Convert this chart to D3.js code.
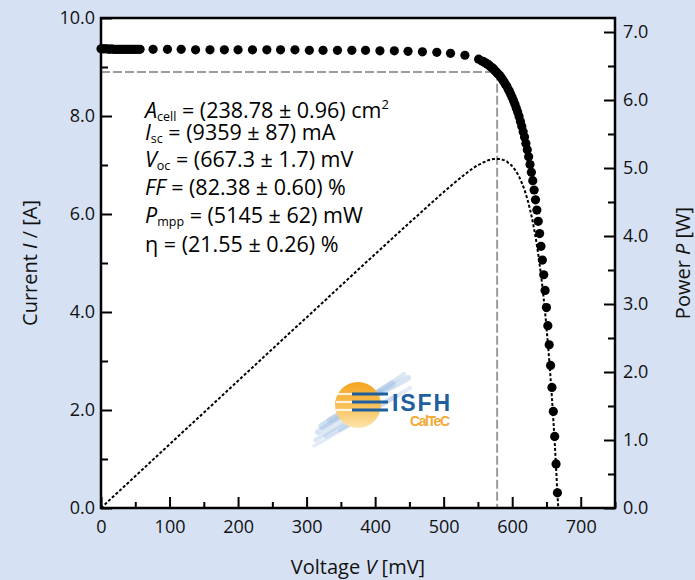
<!DOCTYPE html>
<html><head><meta charset="utf-8">
<script src="https://cdn.jsdelivr.net/npm/d3@7/dist/d3.min.js"></script>
<style>
html,body{margin:0;padding:0;background:#d6e1f3;}
svg{display:block;font-family:"Open Sans",sans-serif;}
</style></head>
<body>
<svg id="chart" width="695" height="580"></svg>
<script>
// ---- data ----
const voltage = [0,3,6,9,12,15,18,21,24,27,30,33,36,39,42,45,48,51,54,57,
  76,97,117,138,159,180,200,221,242,262,283,304,324,345,366,386,407,428,448,469,490,510,531,551,
  556,558,560,562,564,566,568,570,572,574,576,578,580,582,584,586,588,590,592,594,596,598,600,
  602,604,606,608,610,612,614,616,618,620,622,624,626,628,630,632,634,636,638,640,642,644,646,
  648,650,652,654,656,658,660,662,664,666];
const current = [9.37,9.37,9.37,9.37,9.36,9.37,9.36,9.36,9.36,9.36,9.36,9.36,9.36,9.36,9.36,9.36,9.36,9.36,9.36,9.36,
  9.36,9.36,9.36,9.35,9.35,9.35,9.35,9.35,9.35,9.35,9.35,9.34,9.34,9.34,9.34,9.34,9.33,9.33,9.32,9.31,9.30,9.28,9.24,9.16,
  9.12,9.11,9.09,9.07,9.06,9.04,9.01,8.99,8.97,8.94,8.91,8.88,8.85,8.82,8.78,8.74,8.70,8.65,8.61,8.55,8.50,8.44,8.38,
  8.31,8.24,8.16,8.08,7.99,7.89,7.79,7.68,7.57,7.44,7.31,7.17,7.01,6.85,6.68,6.49,6.29,6.08,5.85,5.60,5.34,5.06,4.76,
  4.44,4.09,3.72,3.33,2.91,2.46,1.97,1.46,0.90,0.31];
const xTicks = [0,100,200,300,400,500,600,700];
const yTicks = [0,2,4,6,8,10];
const pTicks = [0,1,2,3,4,5,6,7];
const mpp = {v: 578, i: 8.90};
const infoLines = [
  [{t:"A",i:true},{t:"cell",sub:true},{t:" = (238.78 ± 0.96) cm"},{t:"2",sup:true}],
  [{t:"I",i:true},{t:"sc",sub:true},{t:" = (9359 ± 87) mA"}],
  [{t:"V",i:true},{t:"oc",sub:true},{t:" = (667.3 ± 1.7) mV"}],
  [{t:"FF",i:true},{t:" = (82.38 ± 0.60) %"}],
  [{t:"P",i:true},{t:"mpp",sub:true},{t:" = (5145 ± 62) mW"}],
  [{t:"η = (21.55 ± 0.26) %"}]
];
const infoBaselines = [118,140,167,195,223,252];

// ---- layout ----
const svg = d3.select("#chart");
const L=101, R=615, T=18, B=508;
const x = d3.scaleLinear().domain([0,750]).range([L,R]);
const y = d3.scaleLinear().domain([0,10]).range([B,T]);
const yP = d3.scaleLinear().domain([0,(B-T)/68]).range([B,T]);

svg.append("rect").attr("width",695).attr("height",580).attr("fill","#d6e1f3");
svg.append("rect").attr("x",L).attr("y",T).attr("width",R-L).attr("height",B-T).attr("fill","#fff");

// ---- logo ----
const logo = svg.append("g");
const defs = svg.append("defs");
const g1 = defs.append("linearGradient").attr("id","sun").attr("x1",0).attr("y1",0).attr("x2",0).attr("y2",1);
g1.append("stop").attr("offset","0%").attr("stop-color","#f5a31f");
g1.append("stop").attr("offset","50%").attr("stop-color","#f8bf55");
g1.append("stop").attr("offset","100%").attr("stop-color","#fde4ac");
const streaks = [[316,440,372,404,5,0.35],[318,432,380,392,6,0.4],[322,426,392,384,7,0.45],[330,420,408,378,6,0.4],
  [326,436,396,396,5,0.35],[340,430,410,388,4,0.3],[314,446,360,420,3,0.3],[346,414,404,374,4,0.35]];
streaks.forEach(s=>logo.append("line").attr("x1",s[0]).attr("y1",s[1]).attr("x2",s[2]).attr("y2",s[3])
  .attr("stroke","#9dbde2").attr("stroke-width",s[4]).attr("stroke-linecap","round").attr("opacity",s[5]));
logo.append("circle").attr("cx",358).attr("cy",405).attr("r",23).attr("fill","url(#sun)");
[394,402,410].forEach(yy=>{
  logo.append("line").attr("x1",336).attr("x2",352).attr("y1",yy).attr("y2",yy).attr("stroke","#fff").attr("stroke-width",2.2).attr("opacity",0.8);
  logo.append("line").attr("x1",352).attr("x2",388).attr("y1",yy).attr("y2",yy).attr("stroke","#1f5f9e").attr("stroke-width",2.8);
});
logo.append("text").attr("x",392).attr("y",411).attr("font-family","Liberation Sans, Arial, sans-serif").attr("font-weight","bold")
  .attr("font-size",23).attr("fill","#1f5f9e").attr("textLength",58).text("ISFH");
logo.append("text").attr("x",410).attr("y",426).attr("font-family","Liberation Sans, Arial, sans-serif").attr("font-weight","bold")
  .attr("font-size",14).attr("fill","#f2a935").attr("textLength",40).text("CalTeC");

// ---- mpp guide lines ----
svg.append("path").attr("d",`M${L},${y(mpp.i)}H${x(mpp.v)}V${B}`).attr("fill","none")
  .attr("stroke","#9c9c9c").attr("stroke-width",2).attr("stroke-dasharray","9,3");

// ---- power curve ----
const pw = voltage.map((v,k)=>({v, p: v*current[k]/1000}));
pw.push({v:667.3,p:0});
svg.append("path").datum(pw).attr("fill","none").attr("stroke","#000").attr("stroke-width",2)
  .attr("stroke-dasharray","3,2")
  .attr("d",d3.line().x(d=>x(d.v)).y(d=>yP(d.p)).curve(d3.curveMonotoneX));

// ---- IV points ----
svg.append("g").selectAll("circle").data(voltage).join("circle")
  .attr("cx",v=>x(v)).attr("cy",(v,k)=>y(current[k])).attr("r",4.6).attr("fill","#000");

// ---- axes ----
function styleAxis(g){ g.select(".domain").remove(); g.selectAll("line").attr("stroke","#000").attr("stroke-width",2);
  g.selectAll("text").attr("font-size",18).attr("fill","#111").attr("font-family","Open Sans, sans-serif"); }
const xMinor = d3.range(50,751,100);
svg.append("g").attr("transform",`translate(0,${B})`)
  .call(d3.axisBottom(x).tickValues(xTicks).tickFormat(d3.format("d")).tickSize(-11).tickPadding(12)).call(styleAxis);
svg.append("g").attr("transform",`translate(0,${B})`)
  .call(d3.axisBottom(x).tickValues(xMinor).tickFormat("").tickSize(-6)).call(styleAxis);
svg.append("g").attr("transform",`translate(${L},0)`)
  .call(d3.axisLeft(y).tickValues(yTicks).tickFormat(d3.format(".1f")).tickSize(-11).tickPadding(6)).call(styleAxis);
svg.append("g").attr("transform",`translate(${L},0)`)
  .call(d3.axisLeft(y).tickValues(d3.range(1,10,2)).tickFormat("").tickSize(-7)).call(styleAxis);
svg.append("g").attr("transform",`translate(${R},0)`)
  .call(d3.axisRight(yP).tickValues(pTicks).tickFormat(d3.format(".1f")).tickSize(-11).tickPadding(8)).call(styleAxis);
svg.append("g").attr("transform",`translate(${R},0)`)
  .call(d3.axisRight(yP).tickValues(d3.range(0.5,7.2,1)).tickFormat("").tickSize(-7)).call(styleAxis);
svg.append("rect").attr("x",L).attr("y",T).attr("width",R-L).attr("height",B-T).attr("fill","none")
  .attr("stroke","#000").attr("stroke-width",2.5);

// ---- axis titles ----
function title(sel, parts){ parts.forEach(p=>sel.append("tspan").attr("font-style",p[1]?"italic":null).text(p[0])); }
title(svg.append("text").attr("x",358).attr("y",574).attr("text-anchor","middle").attr("font-size",20).attr("fill","#111"),
  [["Voltage "],["V",1],[" [mV]"]]);
title(svg.append("text").attr("transform",`translate(37,${(T+B)/2}) rotate(-90)`).attr("text-anchor","middle").attr("font-size",20).attr("fill","#111"),
  [["Current "],["I",1],[" / [A]"]]);
title(svg.append("text").attr("transform",`translate(690,${(T+B)/2}) rotate(-90)`).attr("text-anchor","middle").attr("font-size",20).attr("fill","#111"),
  [["Power "],["P",1],[" [W]"]]);

// ---- info text ----
infoLines.forEach((line,k)=>{
  const t = svg.append("text").attr("x",145).attr("y",infoBaselines[k]).attr("font-size",21.5).attr("fill","#000");
  let off = 0;
  line.forEach(p=>{
    const s = t.append("tspan").text(p.t);
    if(p.i) s.attr("font-style","italic");
    if(p.sub){ s.attr("font-size",12.5).attr("dy",3); off += 3; }
    else if(p.sup){ s.attr("font-size",13).attr("dy",-9); off -= 9; }
    else if(off!==0){ s.attr("dy",-off); off = 0; }
  });
});
</script>
</body></html>
